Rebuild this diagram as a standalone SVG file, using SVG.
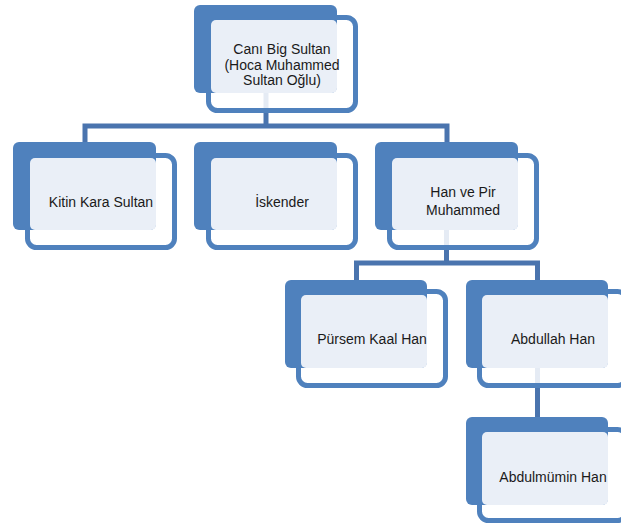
<svg xmlns="http://www.w3.org/2000/svg" width="621" height="524" viewBox="0 0 621 524">
<style>
.conn{fill:none;stroke:#4A74AE;stroke-width:5;stroke-linejoin:miter;stroke-linecap:butt}
.outline{fill:#ffffff;fill-opacity:0.86;stroke:#4F81BD;stroke-width:5}
.back{fill:#4F81BD}
.panel{fill:#EAEFF7}
.t{font-family:"Liberation Sans",Arial,sans-serif;font-size:14px;fill:#1a1a1a;text-anchor:middle}
</style>
<rect width="621" height="524" fill="#ffffff"/>
<g id="connectors">
<path class="conn" d="M266 60 V126"/>
<path class="conn" d="M85 142 V126 H447 V142"/>
<path class="conn" d="M446.5 200 V263"/>
<path class="conn" d="M356.5 280 V263 H537.5 V280"/>
<path class="conn" d="M537.5 340 V417"/>
</g>
<g id="node-cani">
<rect class="outline" x="208.5" y="17.5" width="147" height="93" rx="9"/>
<rect class="back" x="194" y="5" width="143" height="88" rx="6"/>
<rect class="panel" x="211" y="20" width="126" height="73" rx="5"/>
<text class="t" x="282" y="54">Canı Big Sultan</text>
<text class="t" x="282" y="70">(Hoca Muhammed</text>
<text class="t" x="282" y="85">Sultan Oğlu)</text>
</g>
<g id="node-kitin">
<rect class="outline" x="27.5" y="155.5" width="147" height="92" rx="9"/>
<rect class="back" x="13" y="142" width="143" height="88" rx="6"/>
<rect class="panel" x="30" y="158" width="126" height="72" rx="5"/>
<text class="t" x="101" y="207">Kitin Kara Sultan</text>
</g>
<g id="node-iskender">
<rect class="outline" x="208.5" y="155.5" width="147" height="92" rx="9"/>
<rect class="back" x="194" y="142" width="143" height="88" rx="6"/>
<rect class="panel" x="211" y="158" width="126" height="72" rx="5"/>
<text class="t" x="282" y="207">İskender</text>
</g>
<g id="node-han">
<rect class="outline" x="389.5" y="155.5" width="147" height="92" rx="9"/>
<rect class="back" x="375" y="142" width="143" height="88" rx="6"/>
<rect class="panel" x="392" y="158" width="126" height="72" rx="5"/>
<text class="t" x="463" y="197">Han ve Pir</text>
<text class="t" x="463" y="215">Muhammed</text>
</g>
<g id="node-pursem">
<rect class="outline" x="298.5" y="291.5" width="147" height="94" rx="9"/>
<rect class="back" x="285" y="280" width="142" height="88" rx="6"/>
<rect class="panel" x="301" y="295" width="126" height="73" rx="5"/>
<text class="t" x="372" y="344">Pürsem Kaal Han</text>
</g>
<g id="node-abdullah">
<rect class="outline" x="479.5" y="291.5" width="147" height="94" rx="9"/>
<rect class="back" x="466" y="280" width="142" height="88" rx="6"/>
<rect class="panel" x="482" y="295" width="126" height="73" rx="5"/>
<text class="t" x="553" y="344">Abdullah Han</text>
</g>
<g id="node-abdulmumin">
<rect class="outline" x="479.5" y="429.5" width="147" height="91" rx="9"/>
<rect class="back" x="466" y="417" width="142" height="88" rx="6"/>
<rect class="panel" x="482" y="432" width="126" height="73" rx="5"/>
<text class="t" x="553" y="482">Abdulmümin Han</text>
</g>
</svg>
